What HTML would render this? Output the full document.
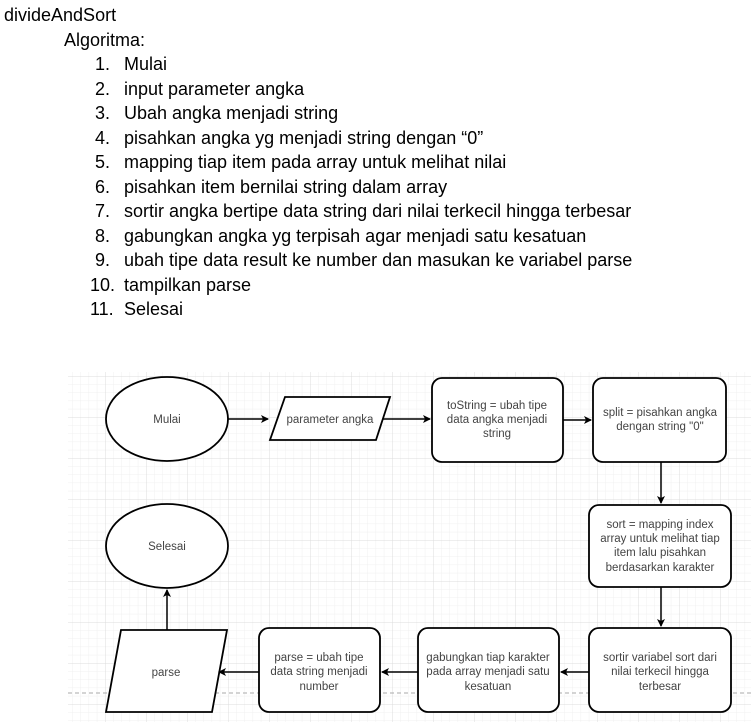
<!DOCTYPE html>
<html><head><meta charset="utf-8"><style>
body{margin:0;width:751px;height:725px;background:#fff;font-family:"Liberation Sans",Arial,sans-serif;color:#000;position:relative;overflow:hidden}
.t{position:absolute;font-size:18px;white-space:nowrap;line-height:20px}
</style></head><body>
<div class="t" style="left:4px;top:5px">divideAndSort</div>
<div class="t" style="left:64px;top:30px">Algoritma:</div>
<div class="t" style="left:95px;top:54px">1.</div><div class="t" style="left:124px;top:54px">Mulai</div>
<div class="t" style="left:95px;top:78.5px">2.</div><div class="t" style="left:124px;top:78.5px">input parameter angka</div>
<div class="t" style="left:95px;top:103px">3.</div><div class="t" style="left:124px;top:103px">Ubah angka menjadi string</div>
<div class="t" style="left:95px;top:127.5px">4.</div><div class="t" style="left:124px;top:127.5px">pisahkan angka yg menjadi string dengan “0”</div>
<div class="t" style="left:95px;top:152px">5.</div><div class="t" style="left:124px;top:152px">mapping tiap item pada array untuk melihat nilai</div>
<div class="t" style="left:95px;top:176.5px">6.</div><div class="t" style="left:124px;top:176.5px">pisahkan item bernilai string dalam array</div>
<div class="t" style="left:95px;top:201px">7.</div><div class="t" style="left:124px;top:201px">sortir angka bertipe data string dari nilai terkecil hingga terbesar</div>
<div class="t" style="left:95px;top:225.5px">8.</div><div class="t" style="left:124px;top:225.5px">gabungkan angka yg terpisah agar menjadi satu kesatuan</div>
<div class="t" style="left:95px;top:250px">9.</div><div class="t" style="left:124px;top:250px">ubah tipe data result ke number dan masukan ke variabel parse</div>
<div class="t" style="left:90px;top:274.5px">10.</div><div class="t" style="left:124px;top:274.5px">tampilkan parse</div>
<div class="t" style="left:90px;top:299px">11.</div><div class="t" style="left:124px;top:299px">Selesai</div>

<svg style="position:absolute;left:0;top:0" width="751" height="725" font-family="Liberation Sans,Arial,sans-serif" font-size="11.5" fill="#444">
<defs>
<pattern id="mn" x="64" y="376" width="8.2" height="8.2" patternUnits="userSpaceOnUse"><path d="M0 0H8.2M0 0V8.2" stroke="#f0f0f0" stroke-width="1" fill="none"/></pattern>
<pattern id="mj" x="64" y="376" width="41" height="41" patternUnits="userSpaceOnUse"><path d="M0 0H41M0 0V41" stroke="#dcdcdc" stroke-width="1" fill="none"/></pattern>
<marker id="a" markerWidth="8" markerHeight="8" refX="7" refY="4" orient="auto" markerUnits="userSpaceOnUse"><path d="M0 0L8 4L0 8L2 4Z" fill="#000"/></marker>
</defs>
<rect x="68" y="372" width="683" height="350" fill="url(#mn)"/>
<rect x="68" y="372" width="683" height="350" fill="url(#mj)"/>
<line x1="68" y1="693" x2="751" y2="693" stroke="#aaa" stroke-dasharray="4 3"/>
<g stroke="#000" stroke-width="1.8" fill="#fff">
<ellipse cx="167" cy="419" rx="61" ry="42"/>
<ellipse cx="167" cy="546" rx="61" ry="42"/>
<polygon points="285,397 390,397 376,440 270,440"/>
<polygon points="121,630 227,630 212,712 106,712"/>
<rect x="432" y="378" width="131" height="84" rx="10"/>
<rect x="593" y="378" width="133" height="84" rx="10"/>
<rect x="589" y="505" width="142" height="82" rx="10"/>
<rect x="589" y="628" width="142" height="84" rx="10"/>
<rect x="418" y="628" width="141" height="84" rx="10"/>
<rect x="259" y="628" width="121" height="84" rx="10"/>
</g>
<g stroke="#000" stroke-width="1.5" fill="none" marker-end="url(#a)">
<line x1="228" y1="419" x2="268" y2="419"/>
<line x1="383" y1="419" x2="430" y2="419"/>
<line x1="563" y1="420" x2="591" y2="420"/>
<line x1="661" y1="462" x2="661" y2="503"/>
<line x1="661" y1="587" x2="661" y2="626"/>
<line x1="589" y1="672" x2="561" y2="672"/>
<line x1="418" y1="672" x2="382" y2="672"/>
<line x1="259" y1="672" x2="219" y2="672"/>
<line x1="167" y1="630" x2="167" y2="590"/>
</g>
<g text-anchor="middle">
<text x="167" y="423">Mulai</text>
<text x="167" y="550">Selesai</text>
<text x="330" y="423">parameter angka</text>
<text x="166" y="676">parse</text>
<text x="497" y="409">toString = ubah tipe</text><text x="497" y="423">data angka menjadi</text><text x="497" y="437">string</text>
<text x="660" y="416">split = pisahkan angka</text><text x="660" y="430">dengan string "0"</text>
<text x="660" y="528">sort = mapping index</text><text x="660" y="542">array untuk melihat tiap</text><text x="660" y="556">item lalu pisahkan</text><text x="660" y="571">berdasarkan karakter</text>
<text x="660" y="661">sortir variabel sort dari</text><text x="660" y="675">nilai terkecil hingga</text><text x="660" y="690">terbesar</text>
<text x="488" y="661">gabungkan tiap karakter</text><text x="488" y="675">pada array menjadi satu</text><text x="488" y="690">kesatuan</text>
<text x="319" y="661">parse = ubah tipe</text><text x="319" y="675">data string menjadi</text><text x="319" y="690">number</text>
</g>
</svg>
</body></html>
